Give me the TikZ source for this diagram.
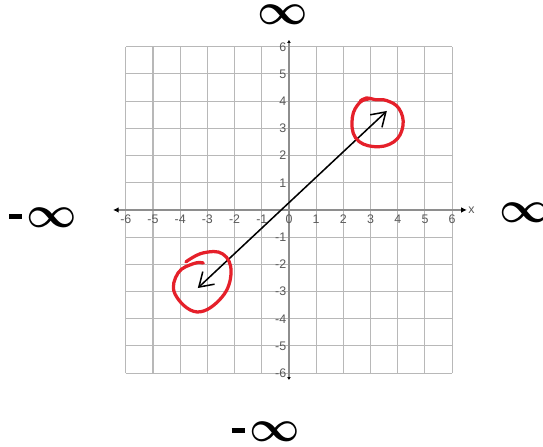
\documentclass[tikz,border=0pt]{standalone}
\usepackage{amsmath,graphicx}
\usepackage{fontspec}
\usetikzlibrary{arrows.meta}
\newfontfamily\tickfont{Liberation Sans}
\definecolor{gridG}{HTML}{B8B8B8}
\definecolor{axisG}{HTML}{8E8E8E}
\definecolor{penR}{HTML}{E5202A}
\newcommand{\bigoo}{\scalebox{4.6}{$\boldsymbol{\infty}$}}
\newcommand{\negoo}{\rule[9pt]{13.5pt}{5pt}\kern5pt\bigoo}

\begin{document}
\begin{tikzpicture}[x=1cm,y=1cm,
  tick/.style={font=\tickfont\fontsize{13}{13}\selectfont,text=black!65,inner sep=1pt},
  inf/.style={font=\normalsize,inner sep=0pt},
  circ/.style={penR,line width=3.4pt,line cap=round,line join=round}]
\useasboundingbox (-10.625,-8.68) rectangle (9.34,7.72);
% grid and axes
\draw[gridG,line width=1.1pt] (-6,-6) grid (6,6);
\draw[axisG,line width=1.2pt,{Latex[color=black,length=6pt,width=6pt]}-{Latex[color=black,length=6pt,width=6pt]}] (-6.47,0)--(6.54,0) node[right,tick,text=black!65] (xname) {x};
\draw[axisG,line width=1.2pt,{Latex[color=black,length=3pt,width=4pt]}-{Latex[color=black,length=3pt,width=4pt]}] (0,-6.25)--(0,6.25);
\foreach \i in {-6,...,6}
  \node[tick] (xl\i) at (\i,-0.33) {\i};
\foreach \j in {-6,...,-1,1,2,...,6}
  \node[tick,anchor=east] (yl\j) at (-0.06,\j) {\j};
% the line
\coordinate (lo) at (-3.35,-2.87);
\coordinate (hi) at (3.60,3.64);
\draw[line width=1.6pt,{Straight Barb[length=14pt,width=18pt]}-{Straight Barb[length=14pt,width=18pt]}] (lo)--(hi);
% red loops
\draw[circ] plot[smooth,tension=0.7] coordinates {(2.62,4.0) (2.85,4.12) (3.2,4.05) (3.6,4.02) (4.05,3.72) (4.19,3.09) (3.85,2.5) (3.1,2.33) (2.45,2.65) (2.33,3.4) (2.6,3.95) (2.95,4.08)};
\draw[circ] plot[smooth,tension=0.7] coordinates {(-3.79,-1.91) (-3.16,-1.58) (-2.43,-1.62) (-2.13,-2.28) (-2.46,-3.20) (-3.38,-3.75) (-4.19,-3.09) (-4.08,-2.32) (-3.5,-1.97) (-3.15,-1.95)};
% infinity marks
\node[inf] (top) at (-0.22,7.17) {\bigoo};
\node[inf] (bot) at (-0.85,-8.16) {\negoo};
\node[inf] (lft) at (-9.03,-0.29) {\negoo};
\node[inf,anchor=west] (rgt) at (7.74,-0.1) {\bigoo};
\end{tikzpicture}
\end{document}
